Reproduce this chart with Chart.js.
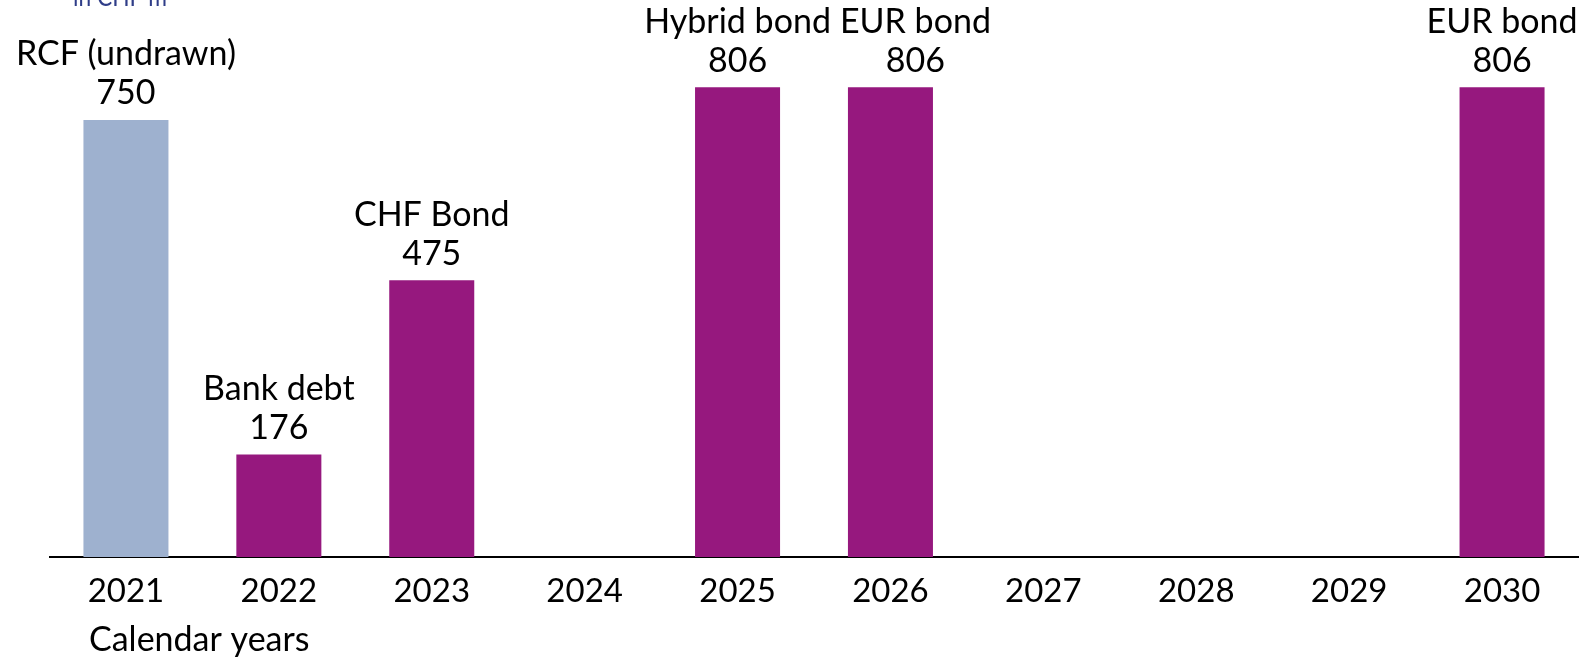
<!DOCTYPE html>
<html>
<head>
<meta charset="utf-8">
<script src="https://cdn.jsdelivr.net/npm/chart.js@4"></script>
<style>
  html, body { margin: 0; padding: 0; background: #ffffff; }
  #wrap { width: 1593px; height: 660px; position: relative; }
</style>
</head>
<body>
<div id="wrap"><canvas id="c" width="1593" height="660"></canvas></div>
<script>
const categories = ['2021', '2022', '2023', '2024', '2025', '2026', '2027', '2028', '2029', '2030'];
const maturities = [750, 176, 475, null, 806, 806, null, null, null, 806];
const instruments = ['RCF (undrawn)', 'Bank debt', 'CHF Bond', '', 'Hybrid bond', 'EUR bond', '', '', '', 'EUR bond'];
const undrawnIndex = [0];
const unitLabel = 'in CHF m';
const axisTitle = 'Calendar years';

const FONT = 'Lato, "Open Sans", sans-serif';
const PURPLE = '#96187e';
const BLUE = '#9eb1cf';
// horizontal nudge of crowded labels (style only)
const labelNudge = { 5: 25 };

const labelPlugin = {
  id: 'barLabels',
  afterDatasetsDraw(chart) {
    const ctx = chart.ctx;
    const meta = chart.getDatasetMeta(0);
    ctx.save();
    ctx.fillStyle = '#000000';
    ctx.font = '34px ' + FONT;
    ctx.textAlign = 'center';
    ctx.textBaseline = 'alphabetic';
    meta.data.forEach((bar, i) => {
      const v = maturities[i];
      if (v === null || v === undefined) return;
      const x = bar.x + (labelNudge[i] || 0);
      const yNum = bar.y - 15.5;
      ctx.fillText(String(v), x, yNum);
      ctx.fillText(instruments[i], x, yNum - 39);
    });
    // unit label (cut at the top)
    ctx.textAlign = 'left';
    ctx.fillStyle = '#2f3d88';
    ctx.font = '26px ' + FONT;
    ctx.fillText(unitLabel, 73, 6, 94);
    // axis title
    ctx.fillStyle = '#000000';
    ctx.font = '34px ' + FONT;
    ctx.fillText(axisTitle, 89, 651);
    ctx.restore();
  }
};

new Chart(document.getElementById('c'), {
  type: 'bar',
  data: {
    labels: categories,
    datasets: [{
      data: maturities,
      backgroundColor: (c) => undrawnIndex.includes(c.dataIndex) ? BLUE : PURPLE,
      borderWidth: 0,
      barPercentage: 0.556,
      categoryPercentage: 1.0
    }]
  },
  options: {
    responsive: false,
    animation: false,
    events: [],
    layout: { padding: { top: 32.5, left: 49.5, right: 14.5, bottom: 0 } },
    plugins: { legend: { display: false }, tooltip: { enabled: false } },
    scales: {
      x: {
        grid: { display: false, drawTicks: false },
        border: { display: true, color: '#000000', width: 2 },
        ticks: { color: '#000000', font: { family: FONT, size: 33 }, padding: 15, maxRotation: 0 },
        afterFit: (scale) => { scale.height = 103; }
      },
      y: {
        display: false,
        min: 0,
        max: 900
      }
    }
  },
  plugins: [labelPlugin]
});
</script>
</body>
</html>
